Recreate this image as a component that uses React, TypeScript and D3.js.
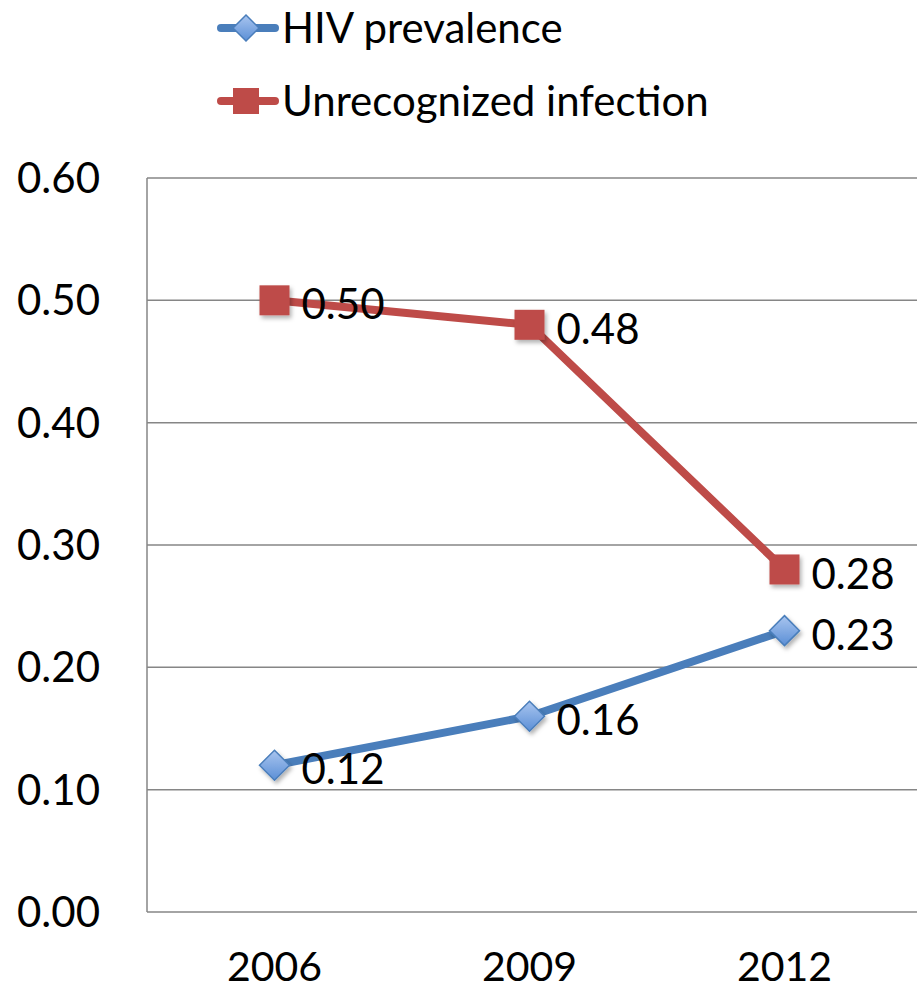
import React from 'react';
import * as d3 from 'd3';

const years = ['2006', '2009', '2012'];
const hivPrevalence = [0.12, 0.16, 0.23];
const unrecognized = [0.5, 0.48, 0.28];
const yTicks = [0, 0.1, 0.2, 0.3, 0.4, 0.5, 0.6];
const seriesNames = ['HIV prevalence', 'Unrecognized infection'];

const W = 917;
const H = 992;
const FONT = 'Lato, "Open Sans", sans-serif';
const BLUE = '#4a7ebb';
const RED = '#be4b48';

export default function App() {
  const x = d3.scaleBand<string>().domain(years).range([147, 912]);
  const y = d3.scaleLinear().domain([0, 0.6]).range([912, 178]);
  const cx = (yr: string) => (x(yr) ?? 0) + x.bandwidth() / 2;

  const line = d3
    .line<number>()
    .x((_, i) => cx(years[i]))
    .y((v) => y(v));

  const diamond = (px: number, py: number, r = 15) =>
    `M${px},${py - r}L${px + r},${py}L${px},${py + r}L${px - r},${py}Z`;

  const square = (px: number, py: number, key: string | number) => (
    <rect key={key} x={px - 15} y={py - 15} width={30} height={30} fill={RED} filter="url(#shadow)" />
  );

  return (
    <div style={{ position: 'absolute', left: 0, top: 0 }}>
      <svg width={W} height={H} style={{ display: 'block', background: '#fff' }}>
        <defs>
          <linearGradient id="blueGrad" x1="0" y1="0" x2="0" y2="1">
            <stop offset="0%" stopColor="#a9c5ef" />
            <stop offset="100%" stopColor="#5b8fd6" />
          </linearGradient>
          <filter id="shadow" x="-50%" y="-50%" width="200%" height="200%">
            <feDropShadow dx="2" dy="3" stdDeviation="2" floodColor="#000" floodOpacity="0.3" />
          </filter>
        </defs>

        {/* gridlines */}
        {yTicks.map((t) => (
          <line key={t} x1={147} x2={W} y1={y(t)} y2={y(t)} stroke="#868686" strokeWidth={1.5} />
        ))}
        <line x1={147} x2={147} y1={y(0.6)} y2={y(0)} stroke="#868686" strokeWidth={1.5} />

        {/* y tick labels */}
        {yTicks.map((t) => (
          <text key={t} x={100} y={y(t)} dy="0.36em" textAnchor="end" fontFamily={FONT} fontSize={42} fill="#000">
            {d3.format('.2f')(t)}
          </text>
        ))}

        {/* x tick labels */}
        {years.map((yr) => (
          <text key={yr} x={cx(yr)} y={981} textAnchor="middle" fontFamily={FONT} fontSize={41} fill="#000">
            {yr}
          </text>
        ))}

        {/* lines */}
        <path d={line(unrecognized) ?? ''} fill="none" stroke={RED} strokeWidth={8} strokeLinejoin="round" />
        <path d={line(hivPrevalence) ?? ''} fill="none" stroke={BLUE} strokeWidth={8} strokeLinejoin="round" />

        {/* markers */}
        {unrecognized.map((v, i) => square(cx(years[i]), y(v), i))}
        {hivPrevalence.map((v, i) => (
          <path key={i} d={diamond(cx(years[i]), y(v))} fill="url(#blueGrad)" stroke={BLUE} strokeWidth={1.5} filter="url(#shadow)" />
        ))}

        {/* data labels */}
        {unrecognized.map((v, i) => (
          <text key={'u' + i} x={cx(years[i]) + 27} y={y(v) + 4} dy="0.36em" fontFamily={FONT} fontSize={42} fill="#000">
            {d3.format('.2f')(v)}
          </text>
        ))}
        {hivPrevalence.map((v, i) => (
          <text key={'h' + i} x={cx(years[i]) + 27} y={y(v) + 4} dy="0.36em" fontFamily={FONT} fontSize={42} fill="#000">
            {d3.format('.2f')(v)}
          </text>
        ))}

        {/* legend */}
        <g>
          <line x1={221} x2={275} y1={28} y2={28} stroke={BLUE} strokeWidth={8} strokeLinecap="round" />
          <path d={diamond(246, 28, 13)} fill="url(#blueGrad)" stroke={BLUE} strokeWidth={1.5} />
          <text x={282} y={28} dy="0.36em" fontFamily={FONT} fontSize={42} fill="#000">
            {seriesNames[0]}
          </text>
          <line x1={221} x2={275} y1={101} y2={101} stroke={RED} strokeWidth={8} strokeLinecap="round" />
          <rect x={233} y={88} width={26} height={26} fill={RED} />
          <text x={282} y={101} dy="0.36em" fontFamily={FONT} fontSize={42} fill="#000">
            {seriesNames[1]}
          </text>
        </g>
      </svg>
    </div>
  );
}
